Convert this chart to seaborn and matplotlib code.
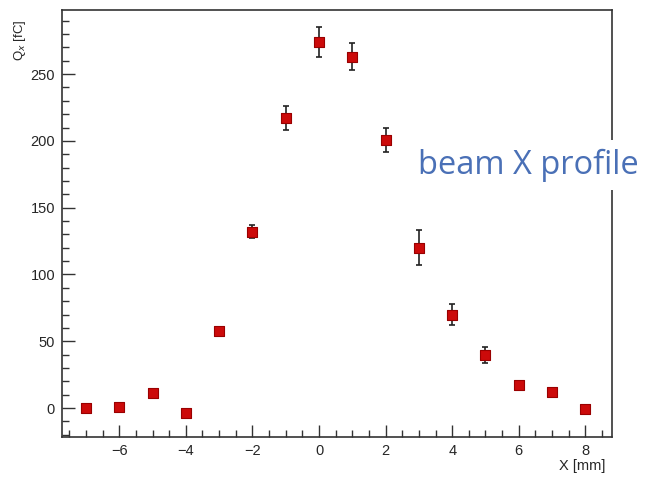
import numpy as np
import pandas as pd
import matplotlib
matplotlib.use("Agg")
import matplotlib.pyplot as plt
import seaborn as sns
from matplotlib.ticker import MultipleLocator

# data
x_mm = [-7, -6, -5, -4, -3, -2, -1, 0, 1, 2, 3, 4, 5, 6, 7, 8]
q_fc = [0, 1, 11, -4, 58, 132, 217, 274, 263, 201, 120, 70, 40, 17, 12, -1]
q_err = [2, 2, 2, 2, 3, 5, 9, 11, 10, 9, 13, 8, 6, 3, 3, 2]

df = pd.DataFrame({"x": x_mm, "q": q_fc, "err": q_err})

sns.set_style("ticks")
plt.rcParams["font.family"] = ["Liberation Sans", "DejaVu Sans"]

fig = plt.figure(figsize=(6.46, 4.79), dpi=100)
ax = fig.add_axes([62 / 646, 1 - 437 / 479, (612 - 62) / 646, (437 - 10) / 479])

ax.errorbar(df["x"], df["q"], yerr=df["err"], fmt="none", ecolor="#222222",
            elinewidth=1.2, capsize=2.5, capthick=1.2, zorder=2)
sns.scatterplot(data=df, x="x", y="q", ax=ax, marker="s", s=48,
                color="#cc0a0a", edgecolor="#990000", linewidth=0.8, zorder=3)

ax.set_xlim(-7.72, 8.8)
ax.set_ylim(-21.7, 298)
ax.xaxis.set_major_locator(MultipleLocator(2))
ax.xaxis.set_minor_locator(MultipleLocator(0.5))
ax.yaxis.set_major_locator(MultipleLocator(50))
ax.yaxis.set_minor_locator(MultipleLocator(10))
ax.tick_params(axis="both", which="major", direction="in", length=9, width=1,
               labelsize=10.5, color="#333333", pad=5)
ax.tick_params(axis="both", which="minor", direction="in", length=5, width=1,
               color="#333333")
ax.tick_params(top=False, right=False, which="both")
for sp in ax.spines.values():
    sp.set_linewidth(1.2)
    sp.set_color("#333333")

ax.set_xlabel("")
ax.set_ylabel("")
fig.text(605 / 646, 1 - 466 / 479, "X [mm]", ha="right", va="center", fontsize=10.5)
fig.text(20 / 646, 1 - 40 / 479, "Q$_x$ [fC]", ha="center", va="center",
         rotation=90, fontsize=9.5)

fig.text(418 / 646, 1 - 165 / 479, "beam X profile", ha="left", va="center",
         fontsize=23.5, color="#4a70b6", family=["Open Sans", "DejaVu Sans"],
         bbox=dict(facecolor="white", edgecolor="none", pad=6))

fig.savefig("out.png", dpi=100)
